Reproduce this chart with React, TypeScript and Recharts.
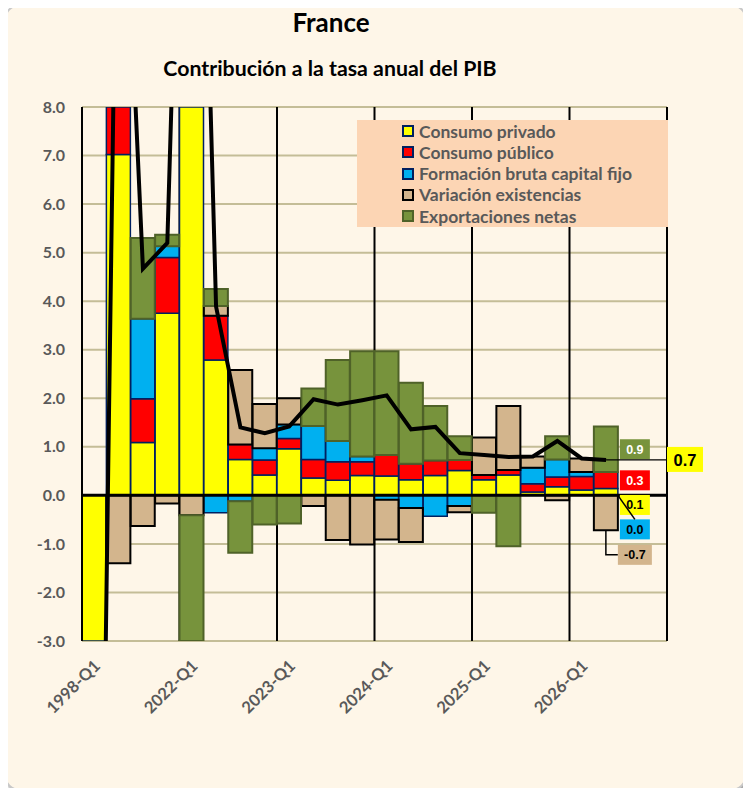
import React from "react";
import {
  ComposedChart,
  Bar,
  Line,
  XAxis,
  YAxis,
  CartesianGrid,
  ReferenceLine,
  LabelList,
} from "recharts";

const categories = [
  "1998-Q1", "2021-Q2", "2021-Q3", "2021-Q4",
  "2022-Q1", "2022-Q2", "2022-Q3", "2022-Q4",
  "2023-Q1", "2023-Q2", "2023-Q3", "2023-Q4",
  "2024-Q1", "2024-Q2", "2024-Q3", "2024-Q4",
  "2025-Q1", "2025-Q2", "2025-Q3", "2025-Q4",
  "2026-Q1", "2026-Q2", "2026-Q3", "2026-Q4",
];

const consumoPrivado = [-12, 7.02, 1.09, 3.75, 18, 2.79, 0.74, 0.42, 0.96, 0.36, 0.31, 0.41, 0.4, 0.32, 0.41, 0.51, 0.32, 0.42, 0.07, 0.18, 0.11, 0.14, null, null];
const consumoPublico = [-0.5, 1.5, 0.9, 1.15, 2.5, 0.91, 0.31, 0.31, 0.21, 0.38, 0.38, 0.28, 0.43, 0.33, 0.31, 0.22, 0.1, 0.1, 0.17, 0.2, 0.28, 0.34, null, null];
const formacionCapital = [-5, 7, 1.65, 0.23, 6, -0.36, -0.12, 0.24, 0.29, 0.69, 0.43, 0.11, -0.09, -0.26, -0.43, -0.22, 0, 0, 0.33, 0.36, 0.09, 0.0, null, null];
const variacionExistencias = [-1, -1.4, -0.63, -0.17, -0.41, 0.2, 1.53, 0.91, 0.54, -0.22, -0.92, -1.01, -0.82, -0.7, 0, -0.13, 0.77, 1.32, 0.23, -0.1, 0.28, -0.72, null, null];
const exportacionesNetas = [-1.5, 1.6, 1.66, 0.24, -4, 0.35, -1.06, -0.6, -0.58, 0.77, 1.67, 2.17, 2.14, 1.67, 1.12, 0.49, -0.36, -1.05, 0, 0.48, 0, 0.94, null, null];
const pib = [-20, 15.7, 4.67, 5.2, 22.1, 3.89, 1.4, 1.28, 1.42, 1.98, 1.87, 1.96, 2.06, 1.36, 1.41, 0.87, 0.83, 0.79, 0.8, 1.12, 0.76, 0.73, null, null];

const yTicks = [-3, -2, -1, 0, 1, 2, 3, 4, 5, 6, 7, 8];

const W = 751;
const H = 796;
const MARGIN = { top: 107, right: 84, bottom: 95, left: 12 };
const Y_AXIS_W = 70;
const X_AXIS_H = 60;
const PLOT_LEFT = MARGIN.left + Y_AXIS_W;
const PLOT_W = W - MARGIN.right - PLOT_LEFT;
const SLOT = PLOT_W / categories.length;

const BG = "#FEF6E8";
const TEXT = "#595959";
const GRID = "#C4BD97";
const NAVY = "#002060";
const FONT = "Lato, 'Open Sans', sans-serif";
const LABEL_FONT = "'Liberation Sans', Arial, sans-serif";

const series = [
  { key: "privado", name: "Consumo privado", fill: "#FFFF00", stroke: NAVY, sw: 1.5, text: "#000" },
  { key: "publico", name: "Consumo público", fill: "#FF0000", stroke: NAVY, sw: 1.5, text: "#fff" },
  { key: "fbcf", name: "Formación bruta capital fijo", fill: "#00B0F0", stroke: NAVY, sw: 1.5, text: "#000" },
  { key: "existencias", name: "Variación existencias", fill: "#D3B58D", stroke: "#000", sw: 2, text: "#000" },
  { key: "exportaciones", name: "Exportaciones netas", fill: "#77933C", stroke: "#4F6228", sw: 2, text: "#fff" },
];

const data = categories.map((cat, i) => ({
  cat,
  privado: consumoPrivado[i],
  publico: consumoPublico[i],
  fbcf: formacionCapital[i],
  existencias: variacionExistencias[i],
  exportaciones: exportacionesNetas[i],
  pib: pib[i],
}));

let LAST = 0;
pib.forEach((v, i) => {
  if (v !== null) LAST = i;
});

function box(props: any) {
  const vb = props.viewBox || {};
  return {
    x: Number(vb.x ?? props.x),
    y: Number(vb.y ?? props.y),
    width: Number(vb.width ?? props.width ?? 0),
    height: Number(vb.height ?? props.height ?? 0),
  };
}

function fmt(v: any) {
  return Number(v).toFixed(1);
}

function ValueBox({ x, cy, w, fill, color, value }: any) {
  return (
    <g>
      <rect x={x} y={cy - 10} width={w} height={20} fill={fill} />
      <text
        x={x + w / 2}
        y={cy + 4.5}
        textAnchor="middle"
        fontFamily={LABEL_FONT}
        fontWeight={700}
        fontSize={12.5}
        fill={color}
      >
        {fmt(value)}
      </text>
    </g>
  );
}

// Recharts drops bars that fall outside the domain (and empty ones),
// so the category is found from x and the 0.0 box hangs off the yellow one
function makeBarLabel(s: (typeof series)[number]) {
  return (props: any) => {
    const { x, y, width, height } = box(props);
    if (Math.round((x - PLOT_LEFT) / SLOT) !== LAST) return null;
    const mid = y + height / 2;
    const right = x + width;
    const bottom = Math.max(y, y + height);
    const bx = right + 2;
    if (s.key === "privado") {
      const blue = series[2];
      const cyBlue = bottom + 34;
      return (
        <g>
          <ValueBox x={bx} cy={mid + 13} w={30} fill={s.fill} color={s.text} value={props.value} />
          <ValueBox x={bx} cy={cyBlue} w={30} fill={blue.fill} color={blue.text} value={formacionCapital[LAST]} />
          <line x1={right} y1={bottom} x2={bx + 15} y2={cyBlue - 10} stroke="#000" strokeWidth={1.5} />
        </g>
      );
    }
    if (s.key === "fbcf") return null;
    if (s.key === "existencias") {
      const cy = mid + 42;
      return (
        <g>
          <polyline
            points={`${x + width / 2},${bottom} ${x + width / 2},${cy} ${right},${cy}`}
            fill="none"
            stroke="#000"
            strokeWidth={1.5}
          />
          <ValueBox x={right} cy={cy} w={34} fill={s.fill} color={s.text} value={props.value} />
        </g>
      );
    }
    return <ValueBox x={bx} cy={mid} w={30} fill={s.fill} color={s.text} value={props.value} />;
  };
}

function TotalLabel(props: any) {
  if (props.index !== LAST) return null;
  const { x, y } = box(props);
  const bx = x + SLOT * (categories.length - LAST - 0.5);
  return (
    <g>
      <line x1={x} y1={y} x2={bx} y2={y} stroke="#000" strokeWidth={1.2} />
      <rect x={bx} y={y - 13} width={36} height={25} fill="#FFFF00" />
      <text
        x={bx + 18}
        y={y + 6}
        textAnchor="middle"
        fontFamily={LABEL_FONT}
        fontWeight={700}
        fontSize={16.5}
        fill="#000"
      >
        {fmt(props.value)}
      </text>
    </g>
  );
}

function XTick(props: any) {
  const { x, y, payload } = props;
  const ax = x + 7;
  const ay = y + 26;
  return (
    <text
      x={ax}
      y={ay}
      transform={`rotate(-45 ${ax} ${ay})`}
      textAnchor="end"
      fill={TEXT}
      fontSize={16.5}
      fontWeight={700}
      fontFamily={FONT}
    >
      {payload.value}
    </text>
  );
}

function verticalLines(args: any) {
  const left = args?.offset?.left ?? PLOT_LEFT;
  const width = args?.offset?.width ?? PLOT_W;
  const out: number[] = [];
  for (let i = 0; i <= categories.length; i += 4) out.push(left + (width * i) / categories.length);
  return out;
}

export default function App() {
  return (
    <div style={{ position: "relative", width: W, height: H, margin: -8, background: "#fff", fontFamily: FONT }}>
      <div
        style={{
          position: "absolute",
          left: 4,
          top: 4,
          width: 739,
          height: 783,
          border: "2px solid #C8C8C8",
          borderRadius: 16,
          background: BG,
          boxShadow: "2px 3px 3px rgba(0,0,0,0.35)",
        }}
      />
      <svg width={W} height={100} style={{ position: "absolute", left: 0, top: 0 }}>
        <text x={331} y={32} textAnchor="middle" fontFamily={FONT} fontWeight={700} fontSize={26} fill="#000">
          France
        </text>
        <text x={330} y={76} textAnchor="middle" fontFamily={FONT} fontWeight={700} fontSize={21.3} fill="#000">
          Contribución a la tasa anual del PIB
        </text>
      </svg>
      <div style={{ position: "absolute", left: 0, top: 0 }}>
        <ComposedChart width={W} height={H} data={data} margin={MARGIN} stackOffset="sign" barCategoryGap={0} barGap={0}>
          <CartesianGrid vertical={false} stroke={GRID} strokeWidth={2} />
          <CartesianGrid horizontal={false} stroke="#000" strokeWidth={2} verticalCoordinatesGenerator={verticalLines} />
          <XAxis
            dataKey="cat"
            interval={3}
            height={X_AXIS_H}
            axisLine={false}
            tickLine={false}
            tickSize={0}
            tickMargin={0}
            tick={<XTick />}
          />
          <YAxis
            width={Y_AXIS_W}
            domain={[-3, 8]}
            ticks={yTicks}
            allowDataOverflow
            interval={0}
            tickFormatter={(v) => Number(v).toFixed(1)}
            axisLine={{ stroke: "#000", strokeWidth: 2 }}
            tickLine={false}
            tickSize={0}
            tickMargin={17}
            tick={{ fill: TEXT, fontSize: 16, fontWeight: 700, fontFamily: FONT }}
          />
          {series.map((s) => (
            <Bar
              key={s.key}
              dataKey={s.key}
              name={s.name}
              stackId="contrib"
              fill={s.fill}
              stroke={s.stroke}
              strokeWidth={s.sw}
              isAnimationActive={false}
            >
              <LabelList dataKey={s.key} content={makeBarLabel(s)} />
            </Bar>
          ))}
          <ReferenceLine y={0} stroke="#000" strokeWidth={3} />
          <Line
            dataKey="pib"
            name="PIB"
            stroke="#000"
            strokeWidth={4}
            dot={false}
            activeDot={false}
            type="linear"
            isAnimationActive={false}
          >
            <LabelList dataKey="pib" content={<TotalLabel />} />
          </Line>
        </ComposedChart>
      </div>
      <div style={{ position: "absolute", left: 357, top: 120, width: 311, height: 107, background: "#FCD5B4" }}>
        {series.map((s, i) => (
          <div
            key={s.key}
            style={{
              position: "absolute",
              left: 45,
              top: 0.5 + i * 21.3,
              height: 21,
              display: "flex",
              alignItems: "center",
              whiteSpace: "nowrap",
            }}
          >
            <span
              style={{
                display: "inline-block",
                width: 8,
                height: 8,
                background: s.fill,
                border: `2px solid ${s.stroke}`,
                marginRight: 5,
              }}
            />
            <span style={{ color: TEXT, fontSize: 17.5, fontWeight: 700 }}>{s.name}</span>
          </div>
        ))}
      </div>
    </div>
  );
}
